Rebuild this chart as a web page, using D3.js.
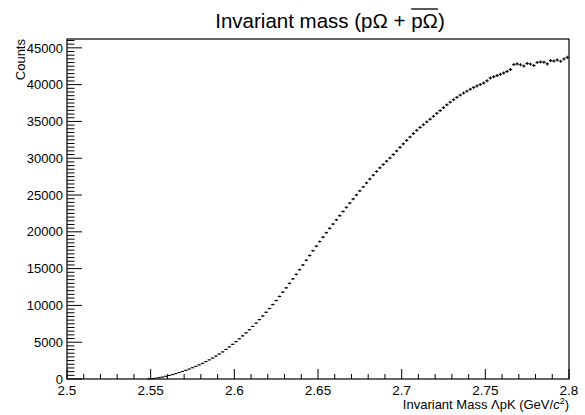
<!DOCTYPE html>
<html>
<head>
<meta charset="utf-8">
<script src="https://cdn.jsdelivr.net/npm/d3@7"></script>
<style>
  body { margin: 0; background: #fff; }
  text { font-family: 'Liberation Sans', Arial, sans-serif; fill: #000; }
</style>
</head>
<body>
<svg width="585" height="415"></svg>
<script>
// histogram: 150 bins over 2.5 - 2.8, only filled bins listed (first filled bin centre 2.549)
const xRange = [2.5, 2.8];
const binWidth = 0.002;
const firstCenter = 2.549;
const counts = [
  10, 40, 100, 180, 270, 370, 480, 600, 730, 870,
  1020, 1180, 1350, 1530, 1720, 1920, 2130, 2360, 2600, 2850,
  3110, 3390, 3680, 4020, 4360, 4710, 5080, 5460, 5860, 6270,
  6700, 7140, 7600, 8070, 8560, 9060, 9580, 10110, 10660, 11220,
  11800, 12390, 12990, 13600, 14220, 14850, 15490, 16130, 16780, 17420,
  18050, 18670, 19280, 19880, 20470, 21050, 21620, 22190, 22760, 23330,
  23900, 24460, 25010, 25560, 26100, 26640, 27170, 27700, 28200, 28690,
  29150, 29600, 30030, 30500, 30990, 31480, 31950, 32420, 32880, 33350,
  33780, 34180, 34560, 34930, 35300, 35700, 36100, 36480, 36870, 37250,
  37620, 37950, 38270, 38570, 38860, 39120, 39380, 39620, 39820, 40030,
  40230, 40520, 40900, 41060, 41230, 41400, 41590, 41800, 42050, 42730,
  42820, 42700, 42520, 42880, 42790, 42600, 43020, 43080, 43050, 42820,
  43260, 43200, 43350, 43180, 43490, 43700
];
const xTicks = [2.5, 2.55, 2.6, 2.65, 2.7, 2.75, 2.8];
const yTicks = [0, 5000, 10000, 15000, 20000, 25000, 30000, 35000, 40000, 45000];
const yMax = 46200;

const svg = d3.select('svg');
const frame = {left: 67, right: 569, top: 39, bottom: 379};

const x = d3.scaleLinear().domain(xRange).range([frame.left, frame.right]);
const y = d3.scaleLinear().domain([0, yMax]).range([frame.bottom, frame.top]);

// frame box
svg.append('rect')
   .attr('x', frame.left)
   .attr('y', frame.top)
   .attr('width', frame.right - frame.left)
   .attr('height', frame.bottom - frame.top)
   .style('fill', 'none')
   .style('stroke', '#000')
   .style('stroke-width', 1.2);

// ticks drawn inside the frame, ROOT style
let xMinor = d3.range(0, 31).map(i => 2.5 + i * 0.01);
svg.append('g').selectAll('line')
   .data(xMinor)
   .enter()
   .append('line')
   .attr('x1', d => x(d))
   .attr('x2', d => x(d))
   .attr('y1', frame.bottom)
   .attr('y2', (d, i) => frame.bottom - (i % 5 == 0 ? 10 : 5))
   .style('stroke', '#000')
   .style('stroke-width', 1);

let yMinor = d3.range(0, 93).map(i => i * 500);
svg.append('g').selectAll('line')
   .data(yMinor)
   .enter()
   .append('line')
   .attr('x1', frame.left)
   .attr('x2', (d, i) => frame.left + (i % 10 == 0 ? 15 : 7.5))
   .attr('y1', d => y(d))
   .attr('y2', d => y(d))
   .style('stroke', '#000')
   .style('stroke-width', 1);

// tick labels
svg.append('g').selectAll('text')
   .data(xTicks)
   .enter()
   .append('text')
   .text(d => d)
   .attr('x', d => x(d))
   .attr('y', 395)
   .style('text-anchor', 'middle')
   .style('font-size', '13.5px');

svg.append('g').selectAll('text')
   .data(yTicks)
   .enter()
   .append('text')
   .text(d => d)
   .attr('x', 63)
   .attr('y', d => y(d))
   .attr('dy', '0.36em')
   .style('text-anchor', 'end')
   .style('font-size', '13px');

// axis titles
svg.append('text')
   .text('Counts')
   .attr('transform', 'translate(25, 39) rotate(-90)')
   .style('text-anchor', 'end')
   .style('font-size', '13px');

let xTitle = svg.append('text')
   .attr('x', frame.right)
   .attr('y', 409)
   .style('text-anchor', 'end')
   .style('font-size', '13px');
xTitle.append('tspan').text('Invariant Mass \u039BpK (GeV/');
xTitle.append('tspan').text('c').style('font-style', 'italic');
xTitle.append('tspan').text('2').attr('dy', -5).style('font-size', '9px');
xTitle.append('tspan').text(')').attr('dy', 5);

// title with overline on the anti-particle pair
let title = svg.append('text')
   .attr('x', 330)
   .attr('y', 28)
   .style('text-anchor', 'middle')
   .style('font-size', '20.5px');
title.append('tspan').text('Invariant mass (p\u03A9 + ');
title.append('tspan').text('p\u03A9');
title.append('tspan').text(')');
let tNode = title.node();
let startIdx = 'Invariant mass (p\u03A9 + '.length;
let ox1 = tNode.getStartPositionOfChar(startIdx).x;
let ox2 = tNode.getEndPositionOfChar(startIdx + 1).x;
svg.append('line')
   .attr('x1', ox1)
   .attr('x2', ox2)
   .attr('y1', 9)
   .attr('y2', 9)
   .style('stroke', '#000')
   .style('stroke-width', 1.3);

// data points with errors
const pts = counts.map((c, i) => ({m: firstCenter + i * binWidth, c: c}));
let pG = svg.append('g');
pG.selectAll('line.h')
   .data(pts)
   .enter()
   .append('line')
   .attr('class', 'h')
   .attr('x1', d => x(d.m - binWidth / 2))
   .attr('x2', d => x(d.m + binWidth / 2))
   .attr('y1', d => y(d.c))
   .attr('y2', d => y(d.c))
   .style('stroke', '#000')
   .style('stroke-width', 1.1);
pG.selectAll('line.v')
   .data(pts)
   .enter()
   .append('line')
   .attr('class', 'v')
   .attr('x1', d => x(d.m))
   .attr('x2', d => x(d.m))
   .attr('y1', d => y(d.c + Math.sqrt(d.c)))
   .attr('y2', d => y(d.c - Math.sqrt(d.c)))
   .style('stroke', '#000')
   .style('stroke-width', 1.1);
</script>
</body>
</html>
